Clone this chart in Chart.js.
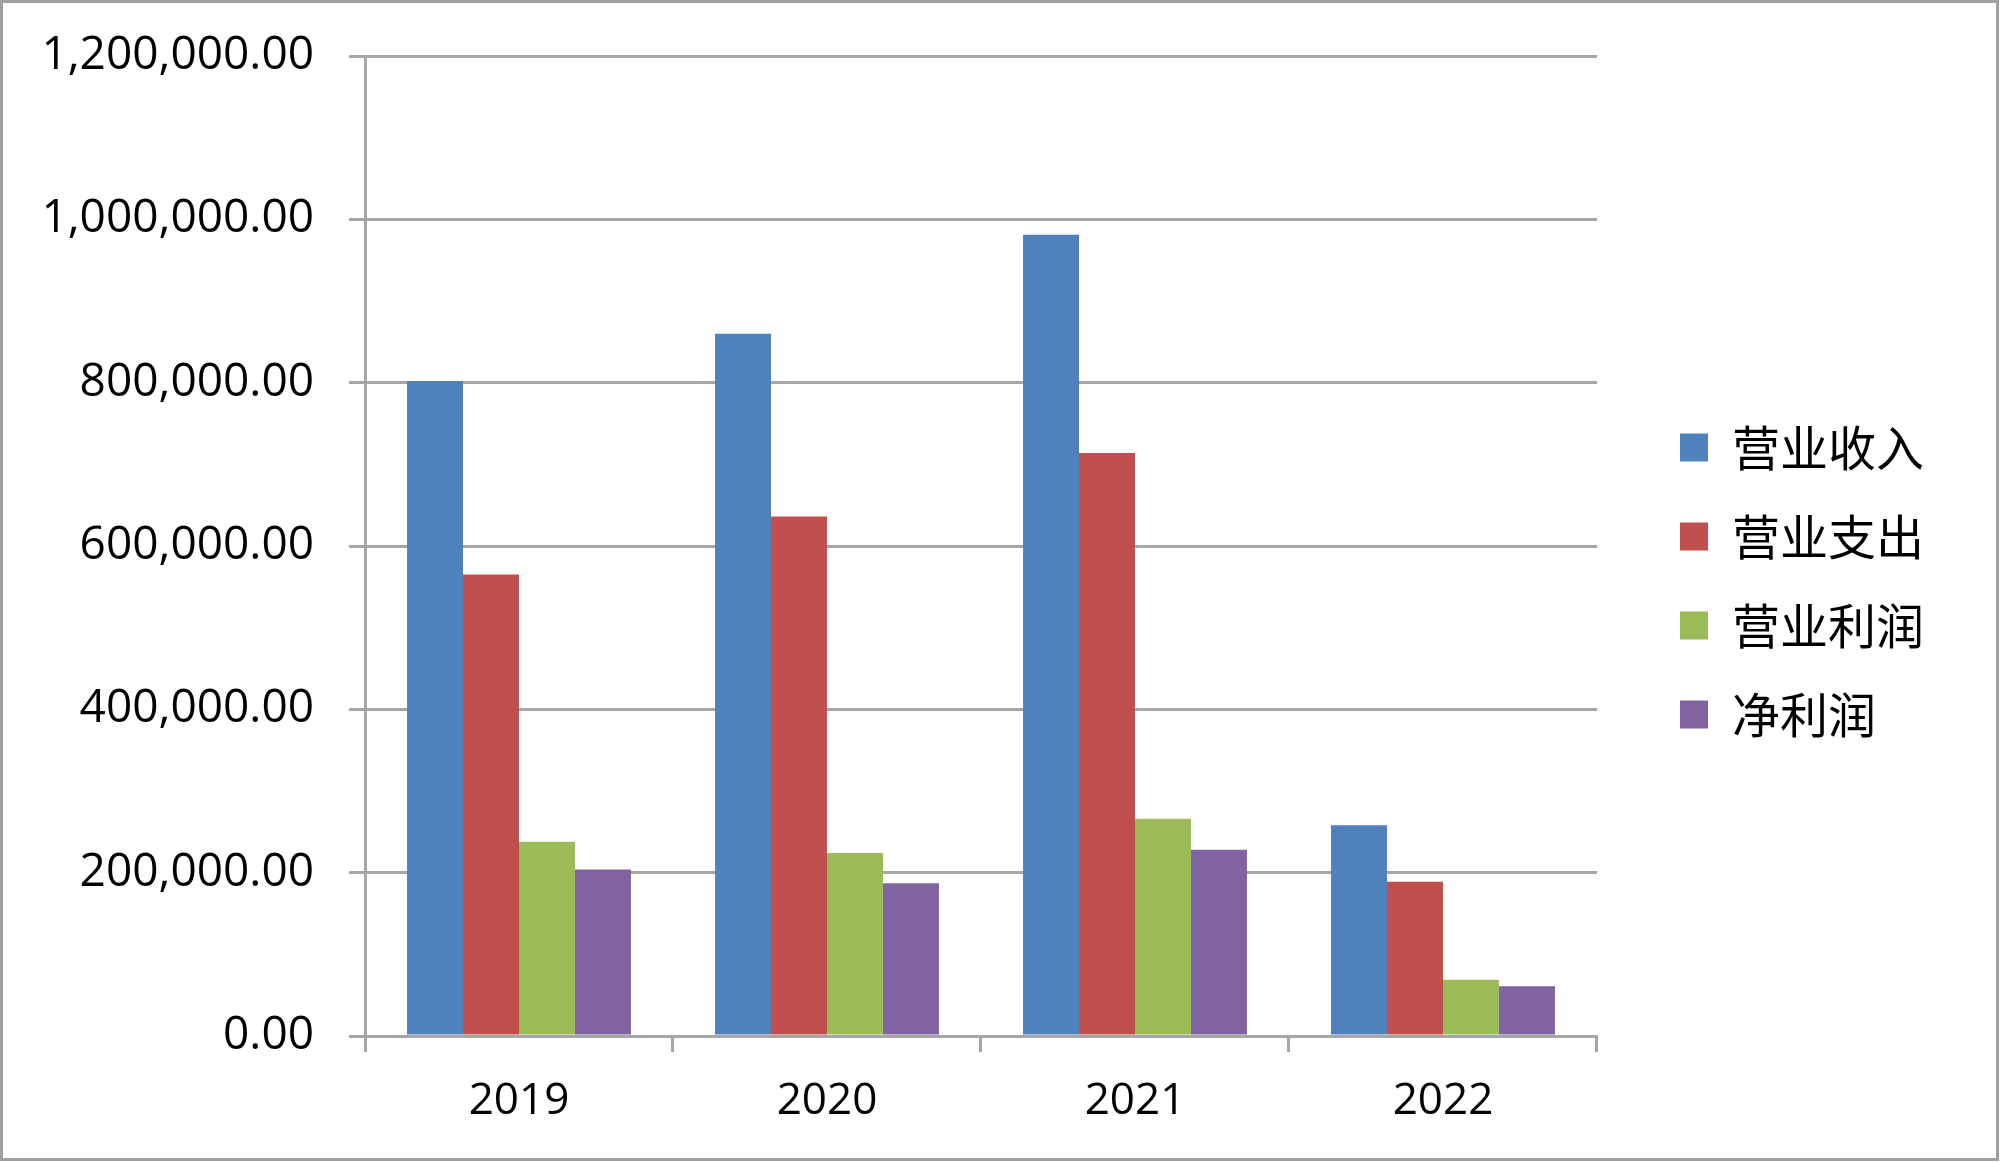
<!DOCTYPE html>
<html>
  <head>
    <meta charset="utf-8">
    <title>营业数据</title>
    <style>
      body { margin: 0; background: #fff; }
      canvas { display: block; }
    </style>
  </head>
  <body>
    <canvas id="MyCanvas" width="2000" height="1162"></canvas>
    <script src="https://cdn.jsdelivr.net/npm/chart.js@4/dist/chart.umd.min.js"></script>
    <script>
      // data
      const years = ['2019', '2020', '2021', '2022'];
      const seriesNames = ['营业收入', '营业支出', '营业利润', '净利润'];
      const revenue = [802000, 860000, 981000, 258000];
      const expense = [565000, 636000, 714000, 189000];
      const opProfit = [238000, 224000, 266000, 69000];
      const netProfit = [204000, 187000, 228000, 61000];
      const yTicks = [0, 200000, 400000, 600000, 800000, 1000000, 1200000];

      const colors = ['#4F81BD', '#C0504D', '#9BBB59', '#8064A2'];
      const gridGray = '#A6A6A6';

      // grey frame round the whole picture
      const frame = {
        id: 'frame',
        afterDraw(chart) {
          const c = chart.ctx;
          c.save();
          c.strokeStyle = '#A0A0A0';
          c.lineWidth = 3;
          c.strokeRect(1.5, 1.5, 1996, 1158);
          c.restore();
        }
      };

      const values = [revenue, expense, opProfit, netProfit];
      const ctx = document.getElementById('MyCanvas').getContext('2d');
      const myChart = new Chart(ctx, {
        type: 'bar',
        data: {
          labels: years,
          datasets: seriesNames.map((name, i) => ({
            label: name,
            data: values[i],
            backgroundColor: colors[i],
            borderWidth: 0,
            categoryPercentage: 0.727,
            barPercentage: 1.0
          }))
        },
        options: {
          responsive: false,
          animation: false,
          layout: { padding: { top: 0, bottom: 0, left: 0, right: 66 } },
          plugins: {
            tooltip: { enabled: false },
            legend: {
              position: 'right',
              labels: {
                font: { family: '"Noto Sans CJK SC"', size: 48 },
                color: '#000',
                boxWidth: 28,
                boxHeight: 28,
                padding: 41
              }
            }
          },
          scales: {
            x: {
              grid: {
                drawOnChartArea: false,
                color: gridGray,
                lineWidth: 3,
                tickLength: 16
              },
              border: { color: gridGray, width: 3 },
              ticks: { font: { family: '"Open Sans"', size: 44 }, color: '#000', padding: 23 },
              afterFit(s) { s.height = 126; }
            },
            y: {
              min: 0,
              max: 1200000,
              grid: { color: gridGray, lineWidth: 3, tickLength: 16 },
              border: { color: gridGray, width: 3 },
              afterBuildTicks(s) { s.ticks = yTicks.map(v => ({ value: v })); },
              ticks: {
                font: { family: '"Open Sans"', size: 46 },
                color: '#000',
                padding: 35,
                callback: v => v.toLocaleString('en-US', { minimumFractionDigits: 2, maximumFractionDigits: 2 })
              },
              afterFit(s) {
                s.width = 365;
                // tick padding is only meant as horizontal gap here
                s.paddingTop = 0;
                s.paddingBottom = 0;
              }
            },
            // empty spacers: room above the plot and between plot and legend
            gapTop: {
              position: 'top',
              grid: { display: false, drawTicks: false },
              border: { display: false },
              ticks: { display: false },
              afterFit(s) { s.height = 56; }
            },
            gapRight: {
              position: 'right',
              grid: { display: false, drawTicks: false },
              border: { display: false },
              ticks: { display: false },
              afterFit(s) { s.width = 42; }
            }
          }
        },
        plugins: [frame]
      });
    </script>
  </body>
</html>
